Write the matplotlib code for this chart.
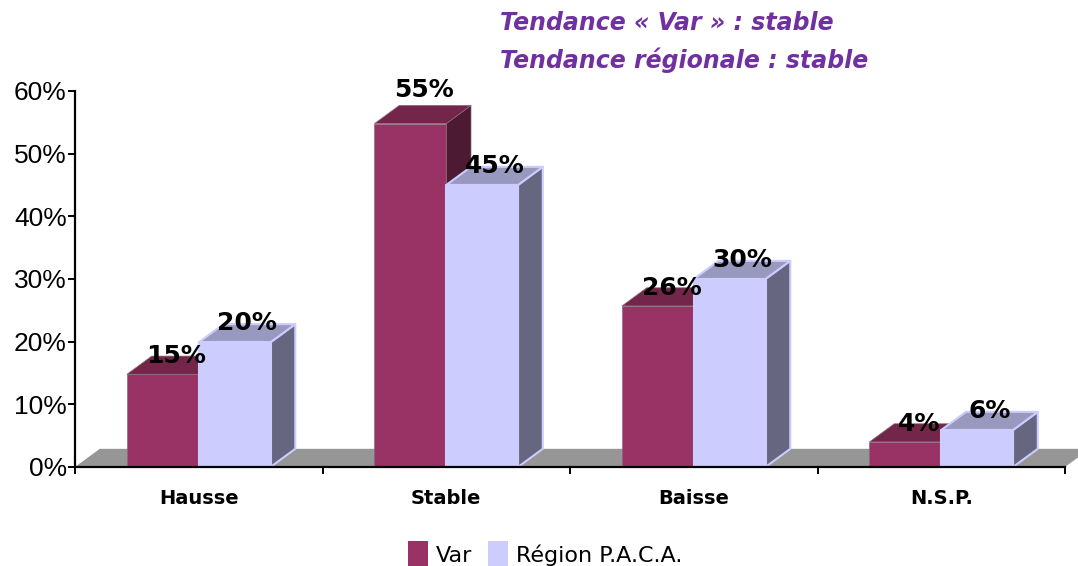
import matplotlib
matplotlib.use('Agg')
import matplotlib.pyplot as plt
from matplotlib.patches import Patch, Polygon


categories = ['Hausse', 'Stable', 'Baisse', 'N.S.P.']
var_values = [14.8, 54.8, 25.7, 4]
paca_values = [19.9, 45, 30, 5.9]
var_labels = ['15%', '55%', '26%', '4%']
paca_labels = ['20%', '45%', '30%', '6%']
yticks = [0, 10, 20, 30, 40, 50, 60]

var_colors = ['#993366', '#732649', '#4D1A33']
paca_colors = ['#CCCCFF', '#9999BF', '#666680']

bar_w = 0.29
depth_x = 0.1
depth_y = 2.9


def drawBar(ax, x, h, colors, edge, lw):
	front = [(x, 0), (x + bar_w, 0), (x + bar_w, h), (x, h)]
	top = [(x, h), (x + bar_w, h), (x + bar_w + depth_x, h + depth_y), (x + depth_x, h + depth_y)]
	side = [(x + bar_w, 0), (x + bar_w + depth_x, depth_y), (x + bar_w + depth_x, h + depth_y), (x + bar_w, h)]
	for pts, c in zip([side, top, front], [colors[2], colors[1], colors[0]]):
		ax.add_patch(Polygon(pts, closed = True, facecolor = c, edgecolor = edge, linewidth = lw, joinstyle = 'round', clip_on = False, zorder = 3))


fig = plt.figure(figsize = (10.78, 5.66), dpi = 100)
ax = fig.add_axes([75 / 1078, (566 - 467) / 566, 990 / 1078, 376 / 566])
ax.set_xlim(0, 4)
ax.set_ylim(0, 60)

# grey floor behind the bars
ax.add_patch(Polygon([(0, 0), (depth_x, depth_y), (4 + depth_x, depth_y), (4, 0)], closed = True,
	facecolor = '#969696', edgecolor = 'none', clip_on = False, zorder = 1))

for i in range(len(categories)):
	drawBar(ax, i + 0.5 - bar_w, var_values[i], var_colors, '#8a6a7c', 0.5)
	drawBar(ax, i + 0.5, paca_values[i], paca_colors, '#CCCCFF', 1.5)

for i in range(len(categories)):
	# the 55% label sits higher than the others in the original
	extra = 11 if var_labels[i] == '55%' else 0
	ax.annotate(var_labels[i], (i + 0.5 - bar_w / 2 + 0.055, var_values[i]), xytext = (0, 13 + extra),
		textcoords = 'offset points', ha = 'center', va = 'center', fontsize = 18, fontweight = 'bold', color = 'black', zorder = 5)
	ax.annotate(paca_labels[i], (i + 0.5 + bar_w / 2 + 0.05, paca_values[i]), xytext = (0, 14),
		textcoords = 'offset points', ha = 'center', va = 'center', fontsize = 18, fontweight = 'bold', color = 'black', zorder = 5)

for s in ['top', 'right']:
	ax.spines[s].set_visible(False)
for s in ['left', 'bottom']:
	ax.spines[s].set_linewidth(1.6)
	ax.spines[s].set_zorder(4)

ax.set_yticks(yticks)
ax.set_yticklabels([str(v) + '%' for v in yticks], fontsize = 19, family = 'Liberation Sans')
ax.tick_params(axis = 'y', length = 5, width = 1.4, pad = 1)

ax.set_xticks(range(len(categories) + 1))
ax.set_xticklabels([])
ax.set_xticks([i + 0.5 for i in range(len(categories))], labels = categories, minor = True)
ax.tick_params(axis = 'x', which = 'major', length = 5, width = 1.4)
ax.tick_params(axis = 'x', which = 'minor', length = 0, pad = 16, labelsize = 14)
for t in ax.get_xticklabels(minor = True):
	t.set_fontweight('bold')

fig.text(500 / 1078, 1 - 23 / 566, 'Tendance « Var » : stable', fontsize = 17, fontweight = 'bold', style = 'italic',
	family = 'DejaVu Sans', color = '#7030A0', ha = 'left', va = 'center')
fig.text(500 / 1078, 1 - 60 / 566, 'Tendance régionale : stable', fontsize = 17, fontweight = 'bold', style = 'italic',
	family = 'DejaVu Sans', color = '#7030A0', ha = 'left', va = 'center')

handles = [Patch(facecolor = var_colors[0], label = 'Var'), Patch(facecolor = paca_colors[0], label = 'Région P.A.C.A.')]
fig.legend(handles = handles, loc = 'center', bbox_to_anchor = (545 / 1078, 1 - 555 / 566), ncol = 2, frameon = False,
	fontsize = 16, handlelength = 0.9, handleheight = 1.5, handletextpad = 0.35, columnspacing = 0.7, borderpad = 0)

fig.savefig('out.png', dpi = 100)
